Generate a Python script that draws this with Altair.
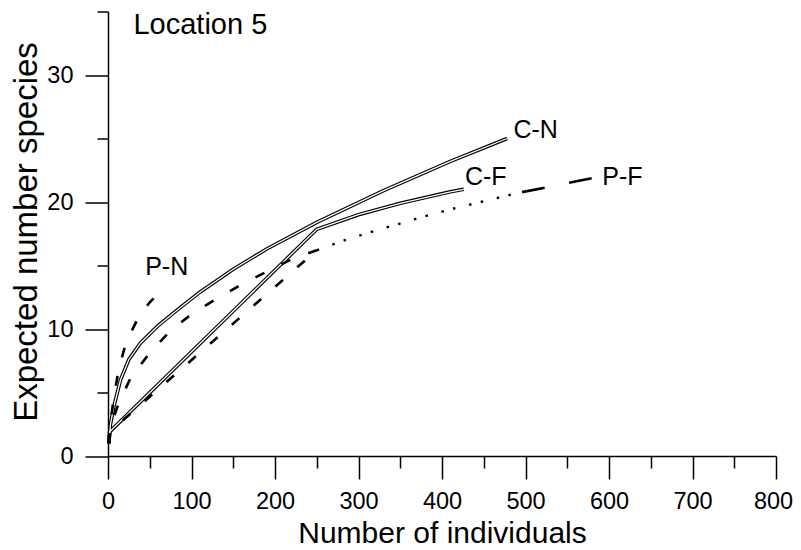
import altair as alt
import pandas as pd

FONT = "Liberation Sans"

# ---- data ----
# C curves (solid, double-stroked)
cn_x = [1, 3, 7, 15, 25, 39, 59, 83, 110, 150, 190, 250, 330, 410, 478]
cn_y = [1.0, 2.5, 3.9, 6.0, 7.6, 8.9, 10.2, 11.5, 12.9, 14.7, 16.3, 18.4, 20.9, 23.2, 25.0]
cf_x = [1, 2, 250, 300, 350, 410, 426]
cf_y = [1.0, 1.9, 17.85, 19.0, 19.9, 20.8, 21.0]

# P curves (dashed)
pn_x = [1, 3, 6.7, 12.7, 21.9, 37.9, 50, 64]
pn_y = [1.0, 2.6, 4.5, 6.8, 9.0, 11.1, 12.1, 13.05]
pa_x = [1, 3, 12.7, 27.5, 49.8, 73.8, 100.6, 130.5, 162.4, 194.4, 220, 250]
pa_y = [1.0, 2.3, 4.15, 6.2, 8.1, 9.8, 11.2, 12.4, 13.6, 14.65, 15.5, 16.2]
pb_x = [1, 2, 250]
pb_y = [1.0, 1.9, 16.2]

# P-F continuation: dotted part, then long-dashed part
pf_dot_x = [250, 284, 318, 352, 386, 421, 456, 490]
pf_dot_y = [16.2, 17.0, 17.7, 18.35, 19.0, 19.6, 20.15, 20.7]
pf_dash_x = [490, 540, 596]
pf_dash_y = [20.7, 21.35, 22.1]

# text labels
label_text = ["Location 5", "C-N", "C-F", "P-F", "P-N"]
label_x = [30.5, 485.5, 427.5, 592, 44.5]
label_y = [33.2, 25.04, 21.34, 21.34, 14.25]
label_size = [29, 25, 25, 25, 25]

x_major = [0, 100, 200, 300, 400, 500, 600, 700, 800]
x_minor = [50, 150, 250, 350, 450, 550, 650, 750]
y_major = [0, 10, 20, 30]
y_minor = [5, 15, 25, 35]


def frame(name, xs, ys):
    return pd.DataFrame({"series": name, "x": xs, "y": ys})


solid = pd.concat([frame("C-N", cn_x, cn_y), frame("C-F", cf_x, cf_y)], ignore_index=True)
dashed = pd.concat([frame("P-N", pn_x, pn_y), frame("P-a", pa_x, pa_y),
                    frame("P-b", pb_x, pb_y)], ignore_index=True)
dotted = frame("P-F", pf_dot_x, pf_dot_y)
longd = frame("P-F", pf_dash_x, pf_dash_y)
labels = pd.DataFrame({"text": label_text, "x": label_x, "y": label_y, "size": label_size})

xs = alt.Scale(domain=[0, 800], nice=False, zero=False)
ys = alt.Scale(domain=[0, 35], nice=False, zero=False)

common = dict(tickColor="black", tickWidth=1.5, grid=False, labelFlush=False)

ax_x_major = alt.Axis(values=x_major, orient="bottom", tickSize=23, domainColor="black",
                      domainWidth=1.5, labelFont=FONT, labelFontSize=23.5, labelColor="black",
                      labelPadding=10, labelOverlap=False,
                      labelOffset={"condition": {"test": "datum.value == 800", "value": -3},
                                   "value": 0},
                      title="Number of individuals",
                      titleFont=FONT, titleFontSize=30, titleFontWeight="normal",
                      titleColor="black", titleBaseline="alphabetic", titleY=86, **common)
ax_x_minor = alt.Axis(values=x_minor, orient="bottom", tickSize=12, labels=False,
                      domain=False, title=None, **common)
ax_y_major = alt.Axis(values=y_major, orient="left", tickSize=23, domainColor="black",
                      domainWidth=1.5, labelFont=FONT, labelFontSize=23.5, labelColor="black",
                      labelPadding=12, labelOverlap=False, title="Expected number species",
                      titleFont=FONT, titleFontSize=33, titleFontWeight="normal",
                      titleColor="black", titleAngle=270, titleBaseline="alphabetic",
                      titleAlign="center", titleX=-72, titleY=220, **common)
ax_y_minor = alt.Axis(values=y_minor, orient="left", tickSize=11, labels=False,
                      domain=False, title=None, **common)

solid_black = alt.Chart(solid).mark_line(color="black", strokeWidth=3.6).encode(
    x=alt.X("x:Q", scale=xs, axis=ax_x_major),
    y=alt.Y("y:Q", scale=ys, axis=ax_y_major),
    detail="series:N",
)
solid_white = alt.Chart(solid).mark_line(color="white", strokeWidth=1.3).encode(
    x=alt.X("x:Q", scale=xs, axis=ax_x_minor),
    y=alt.Y("y:Q", scale=ys, axis=ax_y_minor),
    detail="series:N",
)


def plain(data, mark):
    return alt.Chart(data).mark_line(**mark).encode(
        x=alt.X("x:Q", scale=xs, axis=None),
        y=alt.Y("y:Q", scale=ys, axis=None),
        detail="series:N",
    )


dash_layer = plain(dashed, dict(color="black", strokeWidth=2.6, strokeDash=[10, 19]))
dot_layer = plain(dotted, dict(color="black", strokeWidth=2.4, strokeDash=[2.5, 14, 2.5, 9.5]))
long_layer = plain(longd, dict(color="black", strokeWidth=2.6, strokeDash=[23, 25],
                               strokeDashOffset=43))

text_layer = alt.Chart(labels).mark_text(align="left", baseline="alphabetic", font=FONT,
                                         color="black").encode(
    x=alt.X("x:Q", scale=xs, axis=None),
    y=alt.Y("y:Q", scale=ys, axis=None),
    text="text:N",
    size=alt.Size("size:Q", scale=None, legend=None),
)

chart = alt.layer(solid_black, solid_white, dash_layer, dot_layer, long_layer, text_layer).resolve_axis(
    x="independent", y="independent"
).properties(
    width=668,
    height=444.5,
    autosize=alt.AutoSizeParams(type="none"),
    padding={"left": 100, "top": 3.5, "right": 17, "bottom": 92},
    background="white",
).configure_view(stroke=None)

chart.save("out.html", embed_options={"renderer": "svg", "actions": False})
